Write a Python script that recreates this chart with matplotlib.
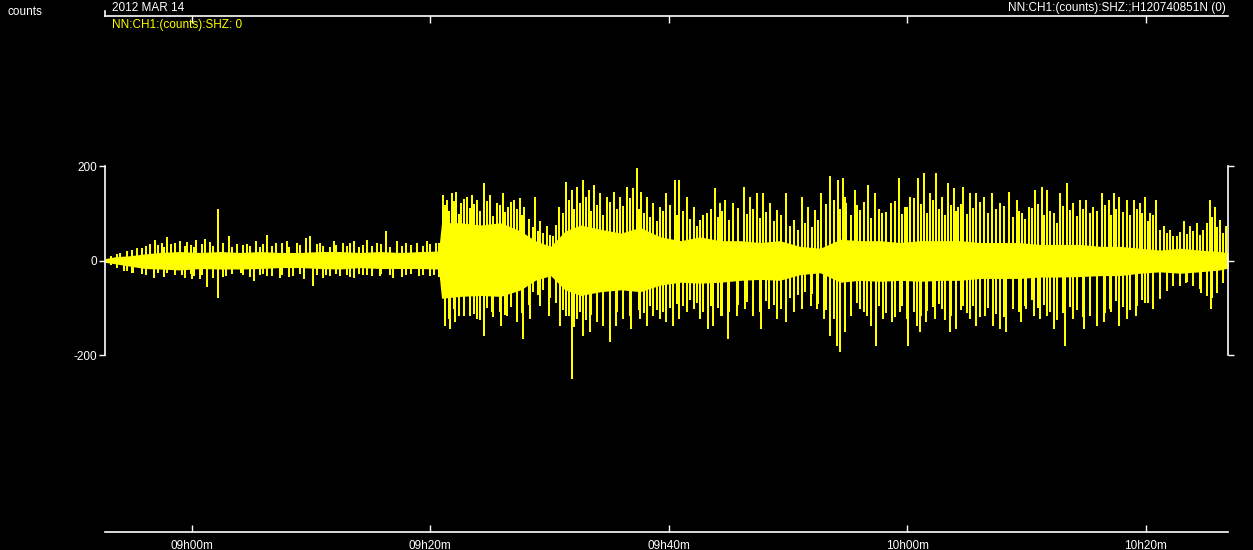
import matplotlib
matplotlib.use("Agg")
import matplotlib.pyplot as plt
from matplotlib.lines import Line2D

plt.rcParams['font.family'] = ['Liberation Sans', 'DejaVu Sans']

W, H = 1253, 550
YEL = '#ffff00'
FG = 'white'

# time in minutes relative to 09h00m
x_ticks = [0, 20, 40, 60, 80]
x_ticklabels = ['09h00m', '09h20m', '09h40m', '10h00m', '10h20m']
x_range = (-7.27, 86.9)
y_ticks = [-200, 0, 200]
y_ticklabels = ['-200', '0', '200']

# dense core of the trace (envelope, counts)
core_t = [-7.27, -6.4, -5.2, -3.9, -2.7, -1.0, 0.7, 2.4, 4.1, 5.7, 7.4, 9.1, 10.8, 12.4, 14.1, 15.8, 17.5, 19.2, 20.7,
          20.95, 22.5, 24.2, 25.9, 27.6, 28.8, 30.1, 31.3, 32.6, 34.3, 36.0, 37.6, 39.3, 41.0, 42.6, 44.3, 46.0, 47.7,
          49.3, 51.0, 52.7, 54.4, 56.0, 57.7, 59.4, 61.1, 62.7, 64.4, 66.1, 67.8, 69.4, 71.1, 72.8, 74.5, 76.2, 77.8,
          79.5, 81.2, 82.9, 84.5, 86.2, 86.9]
core_hi = [4, 8, 10, 14, 17, 19, 17, 19, 17, 19, 17, 17, 19, 19, 17, 19, 17, 19, 20,
           80, 80, 75, 80, 62, 42, 30, 62, 75, 66, 58, 70, 50, 42, 50, 42, 42, 38, 42, 30,
           26, 45, 42, 42, 38, 42, 42, 42, 38, 38, 38, 34, 34, 34, 30, 30, 26, 22, 26, 22, 19, 16]
core_lo = [-4, -7, -12, -17, -18, -20, -17, -18, -18, -17, -15, -15, -17, -18, -15, -17, -17, -17, -18,
           -80, -76, -74, -76, -62, -42, -32, -62, -74, -66, -62, -66, -52, -46, -48, -46, -42, -40, -42, -30,
           -26, -46, -42, -44, -42, -44, -42, -42, -38, -38, -38, -35, -35, -34, -32, -32, -27, -24, -27, -24, -20, -16]

# largest upward excursions (peaks)
up_t = [-6.0, -4.6, -3.5, -3.1, -2.5, -2.1, -1.7, -1.0, -0.4, 0.4, 1.1, 1.5, 2.2, 3.1, 3.8, 4.6, 5.4, 6.3, 7.1, 8.0,
        8.8, 9.6, 9.9, 10.8, 11.9, 12.7, 13.6, 14.7, 15.5, 16.3, 17.2, 18.0, 18.9, 19.7, 20.5,
        21.1, 21.4, 21.8, 22.2, 22.6, 23.1, 23.5, 23.9, 24.5, 25.0, 25.6, 26.1, 26.5, 27.0, 27.5, 27.9, 28.8, 29.2,
        29.8, 30.3, 30.8, 31.4, 31.9, 32.3, 32.8, 33.3, 33.7, 34.2, 34.8, 35.4, 35.9, 36.5, 37.0, 37.3, 37.7, 38.2,
        38.7, 39.3, 39.8, 40.5, 40.9, 41.5, 42.1, 42.6, 43.2, 43.9, 44.3, 44.7, 45.4, 46.3, 46.8, 47.4, 47.9, 48.5,
        49.1, 49.8, 50.5, 51.2, 51.7, 52.3,
        52.8, 53.5, 54.2, 54.6, 54.9, 55.6, 56.0, 56.7, 57.3, 57.9, 58.6, 59.3, 59.8, 60.2, 60.9, 61.4, 61.9, 62.4,
        62.9, 63.4, 63.9, 64.3, 64.7, 65.3, 65.8, 66.4, 67.1, 67.8, 68.5, 69.2, 69.6, 70.2, 70.7, 71.3, 71.7, 72.3,
        72.8, 73.4, 73.9, 74.5, 75.0, 75.6, 76.3, 76.9, 77.3, 77.8, 78.4, 79.0, 79.5, 79.9, 80.4, 80.9, 81.5, 82.0,
        82.6, 83.2, 83.7, 84.3, 84.8, 85.4, 85.8, 86.2, 86.7]
up_v = [16, 27, 34, 44, 37, 50, 34, 41, 39, 44, 46, 39, 109, 51, 34, 34, 41, 53, 37, 41,
        37, 48, 51, 37, 41, 36, 41, 44, 37, 63, 41, 37, 37, 41, 37,
        139, 128, 142, 146, 121, 135, 139, 128, 164, 139, 121, 142, 114, 128, 132, 114, 135, 83,
        72, 51, 114, 167, 149, 156, 171, 149, 160, 142, 135, 146, 135, 156, 153, 195, 146, 135,
        121, 114, 142, 171, 171, 135, 114, 86, 100, 153, 121, 128, 121, 156, 135, 142, 142, 121,
        107, 142, 86, 135, 114, 107,
        142, 178, 171, 174, 121, 150, 107, 160, 142, 100, 121, 174, 114, 135, 174, 185, 142, 185,
        135, 164, 153, 114, 156, 142, 142, 135, 142, 121, 146, 128, 100, 114, 150, 156, 150, 100,
        142, 164, 121, 128, 128, 114, 142, 128, 142, 135, 128, 128, 121, 135, 100, 128, 72, 65,
        51, 83, 72, 79, 65, 128, 114, 86, 72]

# largest downward excursions (troughs)
dn_t = [-5.7, -4.9, -3.2, -2.1, -0.8, 0.0, 0.7, 1.3, 2.2, 2.9, 4.1, 5.2, 6.3, 7.4, 8.5, 9.4, 10.2, 11.3, 12.4,
        13.6, 14.7, 15.8, 16.9, 18.0, 19.1, 20.3,
        21.2, 21.7, 22.1, 22.8, 23.3, 23.9, 24.5, 25.2, 25.9, 26.4, 27.3, 27.8, 28.4, 29.2, 30.0, 30.9, 31.4, 31.9,
        32.3, 32.8, 33.4, 33.96, 34.5, 35.1, 35.6, 36.2, 36.8, 37.6, 38.2, 38.7, 39.3, 39.8, 40.4, 40.9, 41.5, 42.1,
        42.6, 43.3, 43.7, 44.4, 45.0, 45.7, 46.4, 47.1, 47.7, 48.4, 49.1, 49.8, 50.5, 51.2, 51.9, 52.4,
        53.0, 53.5, 54.1, 54.4, 54.8, 55.3, 56.0, 56.6, 57.4, 58.0, 58.7, 59.4, 60.1, 60.8, 61.1, 61.6, 62.3, 62.9,
        63.6, 64.1, 64.7, 65.3, 65.8, 66.5, 67.2, 67.8, 68.3, 68.9, 69.5, 70.0, 70.6, 71.1, 71.7, 72.3, 73.2, 73.9,
        74.8, 75.3, 75.9, 76.5, 77.0, 77.8, 78.4, 79.2, 79.9, 80.6, 81.2, 81.8, 82.3, 82.9, 83.4, 84.0, 84.6, 85.1,
        85.5, 86.0, 86.5]
dn_v = [-22, -26, -36, -26, -30, -40, -40, -57, -79, -33, -26, -43, -33, -36, -33, -40, -54, -30, -33,
        -36, -30, -33, -36, -30, -33, -30,
        -138, -145, -131, -117, -117, -124, -159, -110, -138, -117, -131, -166, -124, -96, -117, -138, -117, -251,
        -124, -159, -152, -131, -138, -173, -138, -124, -145, -124, -138, -117, -124, -131, -138, -124, -110, -103,
        -124, -145, -138, -117, -166, -117, -103, -117, -145, -103, -124, -131, -110, -103, -96, -103,
        -124, -159, -180, -194, -152, -117, -103, -117, -180, -124, -131, -110, -180, -138, -152, -131, -124, -103,
        -152, -145, -96, -124, -138, -117, -138, -145, -152, -103, -131, -103, -117, -124, -117, -145, -180, -124,
        -145, -117, -138, -131, -103, -138, -124, -117, -89, -103, -82, -61, -54, -54, -47, -54, -68, -75,
        -103, -68, -47]

# medium-sized swings (column min / max)
mid_t = [-6.8, -6.3, -5.4, -5.0, -4.2, -3.8, -2.8, -2.3, -1.4, -0.6, -0.1, 0.2, 0.9, 1.8, 2.6, 3.4, 4.3, 4.9, 5.7, 6.0,
         6.7, 7.6, 8.2, 9.1, 10.5, 11.0, 11.6, 12.1, 13.0, 13.3, 14.0, 14.4, 15.1, 15.9, 16.6, 17.6, 18.4, 19.4,
         20.0, 20.7,
         21.25, 21.6, 22.0, 22.4, 22.85, 23.3, 23.7, 24.2, 24.75, 25.3,
         25.85, 26.3, 26.75, 27.25, 27.7, 28.3, 28.6, 29.0, 29.5, 30.05,
         30.55, 31.1, 31.65, 32.1, 32.55, 33.05, 33.5, 33.95, 34.5, 35.1,
         35.65, 36.2, 36.75, 37.5, 37.95, 38.45, 39.0, 39.55, 40.15, 40.7,
         41.2, 41.8, 42.35, 42.9, 43.55, 44.1, 44.5, 45.05, 45.85, 46.55,
         47.1, 47.65, 48.2, 48.8, 49.45, 50.15, 50.85, 51.45, 52.0, 52.55,
         53.15, 53.85, 54.4, 54.75, 55.25, 55.8, 56.35, 57.0, 57.6, 58.25,
         58.95, 59.55, 60.0, 60.55, 61.15, 61.65, 62.15, 62.65, 63.15, 63.65,
         64.1, 64.5, 65.0, 65.55, 66.1, 66.75, 67.45, 68.15, 68.85, 69.4,
         69.9, 70.45, 71.0, 71.5, 72.0, 72.55, 73.1, 73.65, 74.2, 74.75,
         75.3, 75.95, 76.6, 77.1, 77.55, 78.1, 78.7, 79.25, 79.7, 80.15,
         80.65, 81.2, 81.75, 82.3, 82.9, 83.45, 84.0, 84.55, 85.1, 85.6,
         86.0, 86.45]
mid_hi = [10, 14, 20, 22, 26, 30, 33, 28, 36, 30, 32, 28, 34, 30, 36, 28, 32, 30, 28, 34,
          30, 36, 28, 32, 34, 30, 28, 33, 30, 36, 28, 32, 30, 34, 28, 30, 33, 30, 34, 36,
          118, 105, 125, 98, 130, 112, 120, 104, 126, 95,
          118, 102, 124, 110, 96, 88, 70, 62, 58, 55,
          75, 100, 128, 110, 122, 135, 105, 118, 96, 124,
          108, 115, 132, 110, 100, 92, 84, 105, 118, 96,
          104, 88, 72, 96, 110, 92, 104, 86, 112, 98,
          108, 90, 102, 84, 96, 72, 64, 80, 70, 86,
          120, 128, 110, 135, 96, 118, 124, 90, 108, 102,
          126, 98, 114, 132, 120, 100, 128, 110, 96, 118,
          104, 120, 98, 112, 124, 100, 108, 116, 92, 104,
          88, 112, 120, 96, 104, 80, 116, 106, 94, 110,
          100, 104, 118, 96, 110, 102, 96, 108, 100, 84,
          96, 64, 58, 52, 60, 56, 62, 54, 80, 92,
          70, 58]
mid_lo = [-10, -16, -22, -26, -28, -30, -26, -34, -30, -36, -28, -32, -30, -36, -34, -28, -30, -34, -30, -28,
          -32, -30, -34, -28, -30, -36, -32, -28, -30, -34, -28, -30, -32, -28, -30, -34, -28, -30, -32, -34,
          -112, -124, -102, -118, -108, -96, -114, -126, -100, -120,
          -108, -116, -98, -122, -112, -94, -66, -74, -62, -80,
          -90, -104, -118, -140, -110, -126, -116, -102, -124, -132,
          -110, -96, -118, -104, -112, -96, -104, -110, -100, -92,
          -96, -84, -90, -108, -96, -100, -118, -110, -94, -88,
          -98, -110, -86, -94, -102, -80, -72, -66, -70, -92,
          -104, -124, -132, -118, -96, -90, -108, -138, -96, -112,
          -120, -96, -124, -110, -118, -106, -98, -92, -126, -118,
          -88, -104, -112, -96, -120, -100, -114, -120, -92, -108,
          -96, -84, -100, -94, -108, -126, -112, -98, -104, -120,
          -102, -96, -112, -110, -86, -98, -104, -96, -84, -90,
          -80, -72, -64, -52, -48, -46, -54, -60, -70, -80,
          -62, -48]

fig = plt.figure(figsize=(W / 100, H / 100), dpi=100, facecolor='black')

L, R = 105, 1228
# time axis frame (top and bottom lines)
ax2 = fig.add_axes([L / W, 1 - 532 / H, (R - L) / W, (532 - 16) / H])
ax2.set_facecolor('black')
ax2.set_xlim(*x_range)
ax2.set_yticks([])
for s in ['left', 'right']:
    ax2.spines[s].set_visible(False)
for s in ['top', 'bottom']:
    ax2.spines[s].set_color(FG)
    ax2.spines[s].set_linewidth(1.2)
ax2.set_xticks(x_ticks)
ax2.set_xticklabels(x_ticklabels)
ax2.tick_params(axis='x', which='both', direction='in', length=5, width=1, colors=FG,
                top=True, bottom=True, labelsize=8.5, pad=6)

# trace axes
ax = fig.add_axes([L / W, 1 - 355 / H, (R - L) / W, (355 - 166) / H])
ax.set_facecolor('none')
ax.set_xlim(*x_range)
ax.set_ylim(-200, 200)
ax.set_xticks([])
ax.spines['top'].set_visible(False)
ax.spines['bottom'].set_visible(False)
for s in ['left', 'right']:
    ax.spines[s].set_color(FG)
    ax.spines[s].set_linewidth(1.2)
ax.set_yticks(y_ticks)
ax.set_yticklabels(y_ticklabels)
ax.tick_params(axis='y', direction='out', length=4.5, width=1, colors=FG, labelsize=8.5,
               left=True, right=True, labelleft=True, labelright=False, pad=1)

ax.fill_between(core_t, core_lo, core_hi, color=YEL, linewidth=0, clip_on=False, antialiased=False)
for tt, lo, hi in ((mid_t, mid_lo, mid_hi), (up_t, [0] * len(up_t), up_v), (dn_t, dn_v, [0] * len(dn_t))):
    ax.vlines(tt, lo, hi, colors=YEL, linewidth=1.3, clip_on=False, antialiased=False)

# header texts
def px(x, y):
    return x / W, 1 - y / H

fig.text(*px(7, 12), 'counts', color=FG, fontsize=8.5, ha='left', va='center')
fig.text(*px(112, 8), '2012 MAR 14', color=FG, fontsize=8.5, ha='left', va='center')
fig.text(*px(112, 25), 'NN:CH1:(counts):SHZ: 0', color=YEL, fontsize=8.5, ha='left', va='center')
fig.text(*px(1226, 8), 'NN:CH1:(counts):SHZ:;H120740851N (0)', color=FG, fontsize=8.5, ha='right', va='center')
fig.add_artist(Line2D([L / W, L / W], [1 - 11 / H, 1 - 16 / H], color=FG, linewidth=1.2))

fig.savefig('out.png', dpi=100, facecolor='black')
